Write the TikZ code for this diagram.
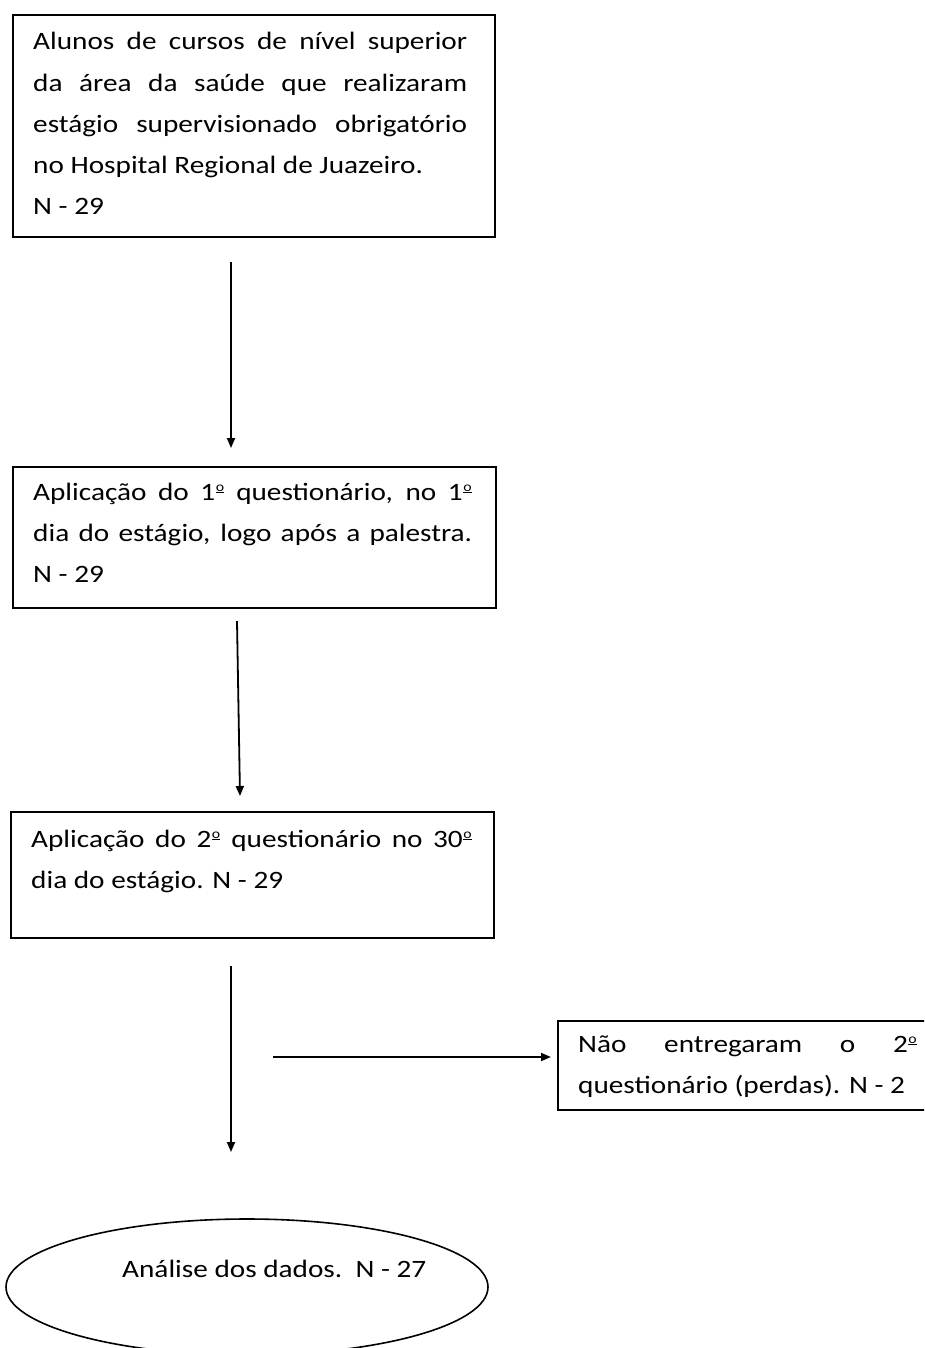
\documentclass[tikz,border=0pt]{standalone}
\usepackage{fontspec}
\setmainfont{Carlito}[FakeStretch=1.17]
\usetikzlibrary{arrows.meta,shapes.geometric}
\tikzset{
  boxshape/.style={draw, line width=1.6pt, rectangle, inner sep=0pt, anchor=north west},
  txt/.style={inner sep=0pt, anchor=base west},
  arr/.style={line width=1.8pt, -{Triangle[length=10pt,width=8pt]}},
}
\newcommand{\boxtext}[2]{\parbox[t]{#1}{\fontsize{25}{41.2}\selectfont #2}}
\newcommand{\ordm}{\kern0.5pt\raisebox{9pt}{\fontsize{13.5}{13.5}\selectfont$\underline{\hbox{o}}$}\kern0.5pt}
\begin{document}
\begin{tikzpicture}[x=1pt,y=-1pt]
\useasboundingbox (0,0) rectangle (924,1348);
\clip (0,0) rectangle (924,1348);
% boxes
\node[boxshape, minimum width=482pt, minimum height=222pt] (b1) at (12,14) {};
\node[txt] (t1) at (33,50) {\boxtext{434pt}{Alunos de cursos de nível superior\linebreak da área da saúde que realizaram\linebreak estágio supervisionado obrigatório\linebreak no Hospital Regional de Juazeiro.\\N - 29}};

\node[boxshape, minimum width=483pt, minimum height=141pt] (b2) at (12,466) {};
\node[txt] (t2) at (33,500) {\boxtext{439pt}{Aplicação do 1\ordm{} questionário, no 1\ordm\linebreak dia do estágio, logo após a palestra.\linebreak N - 29}};

\node[boxshape, minimum width=483pt, minimum height=126pt] (b3) at (10,811) {};
\node[txt] (t3) at (31,847) {\boxtext{441pt}{Aplicação do 2\ordm{} questionário no 30\ordm\linebreak dia do estágio. N - 29}};

\node[boxshape, minimum width=400pt, minimum height=89pt] (b4) at (557,1020) {};
\node[txt] (t4) at (578,1052) {\boxtext{339pt}{\makebox[339pt][s]{Não entregaram o 2\ordm}\\\mbox{questionário (perdas). N - 2}}};

\node[draw, ellipse, line width=1.6pt, minimum width=482pt, minimum height=136pt, inner sep=0pt] (e) at (247,1287) {};
\node[txt] (t5) at (122,1277) {\fontsize{25}{41.2}\selectfont Análise dos dados.\ \ N - 27};

% connectors
\coordinate (a1s) at (231,262); \coordinate (a1e) at (231,448);
\coordinate (a2s) at (237,621); \coordinate (a2e) at (240,796);
\coordinate (a3s) at (231,966); \coordinate (a3e) at (231,1152);
\coordinate (a4s) at (273,1057); \coordinate (a4e) at (551,1057);
\draw[arr] (a1s) -- (a1e);
\draw[arr] (a2s) -- (a2e);
\draw[arr] (a3s) -- (a3e);
\draw[arr] (a4s) -- (a4e);
\end{tikzpicture}
\end{document}
